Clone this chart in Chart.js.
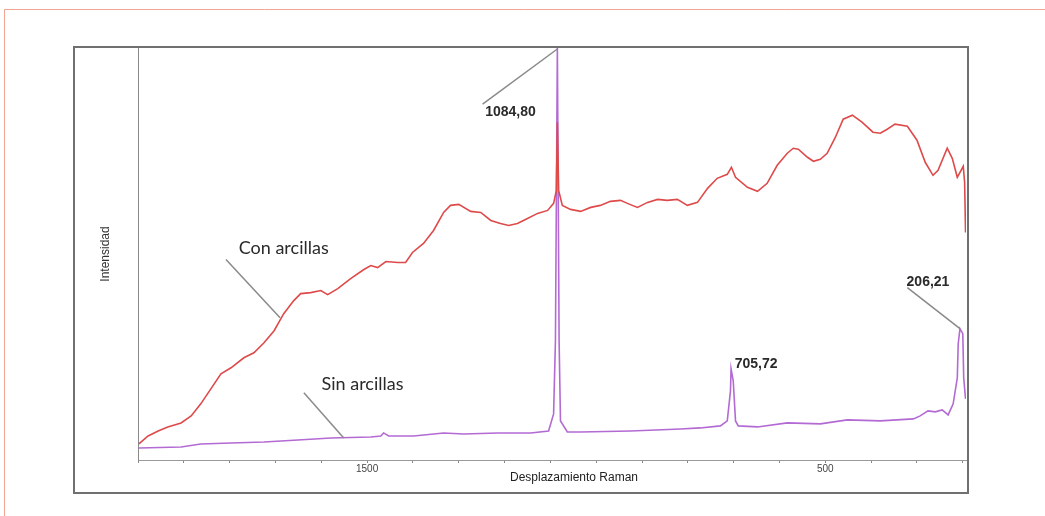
<!DOCTYPE html>
<html lang="es">
<head>
<meta charset="utf-8">
<title>Espectro Raman</title>
<script src="https://cdn.jsdelivr.net/npm/chart.js@4.4.1/dist/chart.umd.min.js"></script>
<style>
  html, body { margin: 0; padding: 0; background: #fff; }
  canvas { display: block; }
</style>
</head>
<body>
<canvas id="ramanChart" width="1045" height="516"></canvas>
<script>
// Raman shift (cm-1) and intensity (arbitrary units)
const conShift = [1998, 1978, 1956, 1935, 1906, 1884, 1863, 1841, 1819, 1797, 1769, 1747, 1725, 1703, 1682, 1660, 1645, 1623, 1601, 1586,
  1564, 1536, 1507, 1492, 1477, 1459, 1433, 1416, 1401, 1377, 1355, 1333, 1318, 1300, 1274, 1252, 1230, 1209, 1191, 1172,
  1150, 1128, 1106, 1093, 1087, 1084.8, 1082, 1074, 1056, 1034, 1012, 991, 969, 947, 932, 910, 888, 866, 845, 823,
  801, 779, 757, 736, 714, 705, 696, 670, 648, 627, 605, 583, 570, 559, 539, 526, 511, 496, 478, 461,
  441, 420, 396, 380, 365, 348, 321, 300, 282, 265, 254, 234, 223, 212, 199, 196, 194];
const conIntensity = [16, 24, 29, 33, 37, 44, 56, 71, 86, 92, 102, 107, 117, 129, 146, 159, 166, 167, 169, 165,
  171, 181, 190, 194, 192, 198, 197, 197, 207, 216, 229, 247, 254, 255, 248, 247, 239, 236, 234, 236,
  241, 246, 249, 256, 269, 337, 269, 254, 250, 248, 252, 254, 258, 259, 256, 252, 257, 260, 259, 260,
  254, 257, 271, 281, 285, 292, 282, 272, 268, 276, 294, 306, 311, 310, 302, 298, 300, 306, 322, 340,
  344, 337, 327, 326, 330, 335, 333, 319, 297, 284, 289, 311, 301, 282, 293, 277, 227];

const sinShift = [1998, 1906, 1863, 1797, 1725, 1651, 1579, 1492, 1470, 1464, 1453, 1398, 1333, 1289, 1215, 1143, 1104, 1093, 1089, 1084.8,
  1081, 1078, 1063, 1034, 925, 816, 773, 729, 714, 707, 705.7, 701, 696, 690, 648, 583, 511, 452, 380, 308,
  293, 276, 260, 245, 232, 221, 212, 210, 206.2, 200, 198, 194];
const sinIntensity = [12, 13, 16, 17, 18, 20, 22, 23, 24, 27, 24, 24, 27, 26, 27, 27, 29, 46, 119, 411,
  119, 39, 28, 28, 29, 31, 32, 34, 39, 69, 91, 79, 39, 34, 33, 37, 36, 40, 39, 41,
  44, 49, 48, 50, 45, 56, 82, 116, 131, 126, 82, 61];

// minor tick marks every 100 cm-1, only two of them carry a label
const tickMarks = [2000, 1900, 1800, 1700, 1600, 1500, 1400, 1300, 1200, 1100, 1000, 900, 800, 700, 600, 500, 400, 300, 200];
const labeledTicks = [1500, 500];

// callouts: text, where it sits and the leader line, in data units
const notes = [
  { text: '1084,80', x: 1187, y: 347, from: [1248, 355], to: [1084.8, 410], font: 'bold 14px "Liberation Sans"' },
  { text: '705,72', x: 651, y: 96, font: 'bold 14px "Liberation Sans"' },
  { text: '206,21', x: 276, y: 177, from: [321, 172], to: [206.2, 131], font: 'bold 14px "Liberation Sans"' },
  { text: 'Con arcillas', x: 1682, y: 211, from: [1808, 200], to: [1690, 142], font: '18px Lato' },
  { text: 'Sin arcillas', x: 1510, y: 76, from: [1638, 67], to: [1551, 22], font: '18px Lato' }
];

const toPoints = (xs, ys) => xs.map((x, i) => ({ x: x, y: ys[i] }));

const framePlugin = {
  id: 'frame',
  beforeDraw(chart) {
    const ctx = chart.ctx;
    ctx.save();
    ctx.fillStyle = '#fff';
    ctx.fillRect(0, 0, chart.width, chart.height);
    // outer salmon border
    ctx.strokeStyle = '#f2a593';
    ctx.lineWidth = 1;
    ctx.beginPath();
    ctx.moveTo(4.5, chart.height);
    ctx.lineTo(4.5, 9.5);
    ctx.lineTo(chart.width, 9.5);
    ctx.stroke();
    // grey box round the plot
    ctx.strokeStyle = '#707070';
    ctx.lineWidth = 2;
    ctx.strokeRect(74, 47, 894, 446);
    ctx.restore();
  }
};

const notesPlugin = {
  id: 'notes',
  afterDatasetsDraw(chart) {
    const ctx = chart.ctx;
    const xs = chart.scales.x;
    const ys = chart.scales.y;
    ctx.save();
    notes.forEach(n => {
      if (n.from) {
        ctx.strokeStyle = '#8a8a8a';
        ctx.lineWidth = 1.5;
        ctx.beginPath();
        ctx.moveTo(xs.getPixelForValue(n.from[0]), ys.getPixelForValue(n.from[1]));
        ctx.lineTo(xs.getPixelForValue(n.to[0]), ys.getPixelForValue(n.to[1]));
        ctx.stroke();
      }
      ctx.fillStyle = '#2a2a2a';
      ctx.font = n.font;
      ctx.textAlign = 'center';
      ctx.textBaseline = 'middle';
      ctx.fillText(n.text, xs.getPixelForValue(n.x), ys.getPixelForValue(n.y));
    });
    // x axis title sits a little right of centre in the original
    ctx.font = '12px "Liberation Sans"';
    ctx.fillStyle = '#222';
    ctx.fillText('Desplazamiento Raman', 574, 478);
    ctx.restore();
  }
};

const ctx = document.getElementById('ramanChart').getContext('2d');
new Chart(ctx, {
  type: 'line',
  data: {
    datasets: [
      {
        label: 'Con arcillas',
        data: toPoints(conShift, conIntensity),
        borderColor: '#de4a4a',
        borderWidth: 1.6,
        pointRadius: 0,
        tension: 0
      },
      {
        label: 'Sin arcillas',
        data: toPoints(sinShift, sinIntensity),
        borderColor: '#b36ad3',
        borderWidth: 1.6,
        pointRadius: 0,
        tension: 0
      }
    ]
  },
  options: {
    responsive: false,
    animation: false,
    layout: { padding: { left: 0, right: 79, top: 48, bottom: 26 } },
    plugins: {
      legend: { display: false },
      tooltip: { enabled: false }
    },
    scales: {
      x: {
        type: 'linear',
        reverse: true,
        min: 193,
        max: 2000,
        afterBuildTicks: scale => { scale.ticks = tickMarks.map(v => ({ value: v })); },
        afterFit: scale => { scale.height = 30; },
        ticks: {
          autoSkip: false,
          maxRotation: 0,
          padding: 0,
          color: '#444',
          font: { family: 'Liberation Sans', size: 10 },
          callback: v => labeledTicks.some(t => Math.abs(t - v) < 1) ? String(Math.round(v)) : ''
        },
        grid: { drawOnChartArea: false, drawTicks: true, tickLength: 3, color: '#8a8a8a' },
        border: { display: true, color: '#9a9a9a', width: 1 }
      },
      y: {
        min: 0,
        max: 411,
        afterFit: scale => { scale.width = 138; },
        ticks: { display: false },
        grid: { display: false },
        border: { display: true, color: '#8a8a8a', width: 1, dash: [2, 2] },
        title: {
          display: true,
          text: 'Intensidad',
          color: '#333',
          font: { family: 'Liberation Sans', size: 12 },
          padding: { top: 98, bottom: 0 }
        }
      }
    }
  },
  plugins: [framePlugin, notesPlugin]
});
</script>
</body>
</html>
